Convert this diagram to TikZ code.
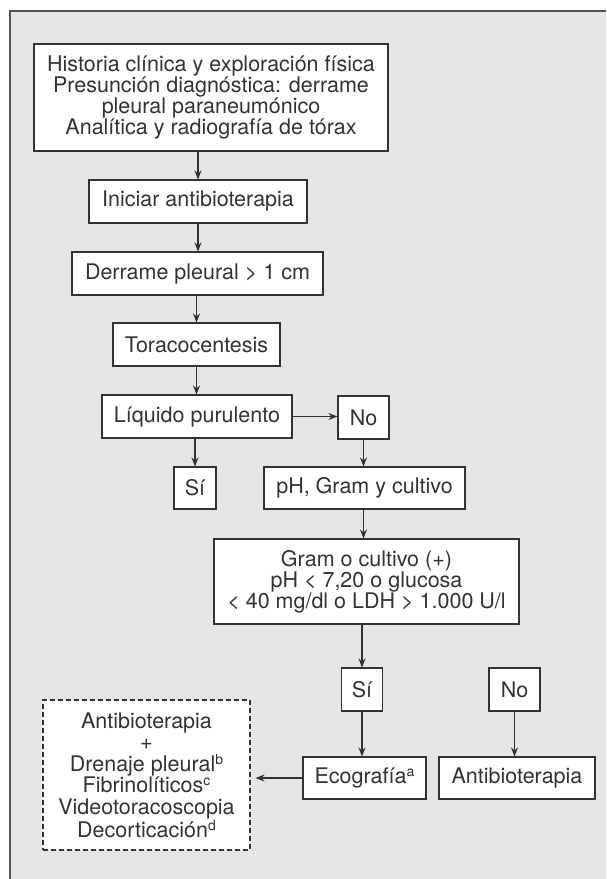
\documentclass[tikz,border=0pt]{standalone}
\usepackage{fontspec}
\setmainfont{TeX Gyre Heros}
\usetikzlibrary{arrows.meta}
\definecolor{panel}{HTML}{E4E5E7}
\definecolor{ink}{HTML}{333333}
\definecolor{framec}{HTML}{555555}
\newcommand{\supl}[1]{\raisebox{0.32em}{\fontsize{14}{14}\selectfont #1}}
\begin{document}
\begin{tikzpicture}[x=1pt,y=-1pt,
  box/.style={draw=ink,line width=1.1pt,fill=white,inner sep=0pt,text=ink,
    font=\fontsize{21.5}{21}\selectfont,align=center},
  dbox/.style={box,dash pattern=on 5pt off 3pt,font=\fontsize{21.5}{21.5}\selectfont},
  arr/.style={draw=ink,line width=1.1pt,-{Stealth[length=9pt,width=7pt]}}]
\useasboundingbox (0,0) rectangle (606,879);
\fill[panel] (10,11) rectangle (606,879);
\draw[framec,line width=1.5pt] (10,879) -- (10,11) -- (606,11);

\node[box,minimum width=354pt,minimum height=107pt] (top) at (211,97.5)
  {Historia clínica y exploración física\\Presunción diagnóstica: derrame\\pleural paraneumónico\\Analítica y radiografía de tórax};
\node[box,minimum width=218pt,minimum height=43pt] (ini) at (198,201.5) {Iniciar antibioterapia};
\node[box,minimum width=251pt,minimum height=43pt] (der) at (197.5,273.5) {Derrame pleural > 1 cm};
\node[box,minimum width=167pt,minimum height=43pt] (tor) at (196.5,344.5) {Toracocentesis};
\node[box,minimum width=190pt,minimum height=43pt] (liq) at (197,416.5) {Líquido purulento};
\node[box,minimum width=51pt,minimum height=43pt] (no1) at (363.5,417.5) {No};
\node[box,minimum width=42pt,minimum height=42pt] (si1) at (195,488) {Sí};
\node[box,minimum width=201pt,minimum height=42pt] (ph) at (364.5,488) {pH, Gram y cultivo};
\node[box,minimum width=305pt,minimum height=85pt] (gram) at (366.5,581.5)
  {Gram o cultivo (+)\\pH < 7,20 o glucosa\\< 40 mg/dl o LDH > 1.000 U/l};
\node[box,minimum width=41pt,minimum height=43pt] (si2) at (362,689.5) {Sí};
\node[box,minimum width=51pt,minimum height=43pt] (no2) at (514.5,689.5) {No};
\node[box,minimum width=123pt,minimum height=42pt] (eco) at (364.5,778) {Ecografía\supl{a}};
\node[box,minimum width=156pt,minimum height=42pt] (anti) at (517,778) {Antibioterapia};
\node[dbox,minimum width=207pt,minimum height=150pt] (trat) at (146.5,775)
  {Antibioterapia\\+\\Drenaje pleural\supl{b}\\Fibrinolíticos\supl{c}\\Videotoracoscopia\\Decorticación\supl{d}};

\draw[arr] (ini.north |- top.south) -- (ini.north);
\draw[arr] (ini.south) -- (ini.south |- der.north);
\draw[arr] (tor.north |- der.south) -- (tor.north);
\draw[arr] (tor.south) -- (tor.south |- liq.north);
\draw[arr] (si1.north |- liq.south) -- (si1.north);
\draw[arr] (liq.east) -- (liq.east -| no1.west);
\draw[arr] (no1.south) -- (no1.south |- ph.north);
\draw[arr] (no1.south |- ph.south) -- (no1.south |- gram.north);
\draw[arr] (si2.north |- gram.south) -- (si2.north);
\draw[arr] (si2.south) -- (si2.south |- eco.north);
\draw[arr] (no2.south) -- (no2.south |- anti.north);
\draw[arr,shorten >=5pt] (eco.west) -- (eco.west -| trat.east);
\end{tikzpicture}
\end{document}
